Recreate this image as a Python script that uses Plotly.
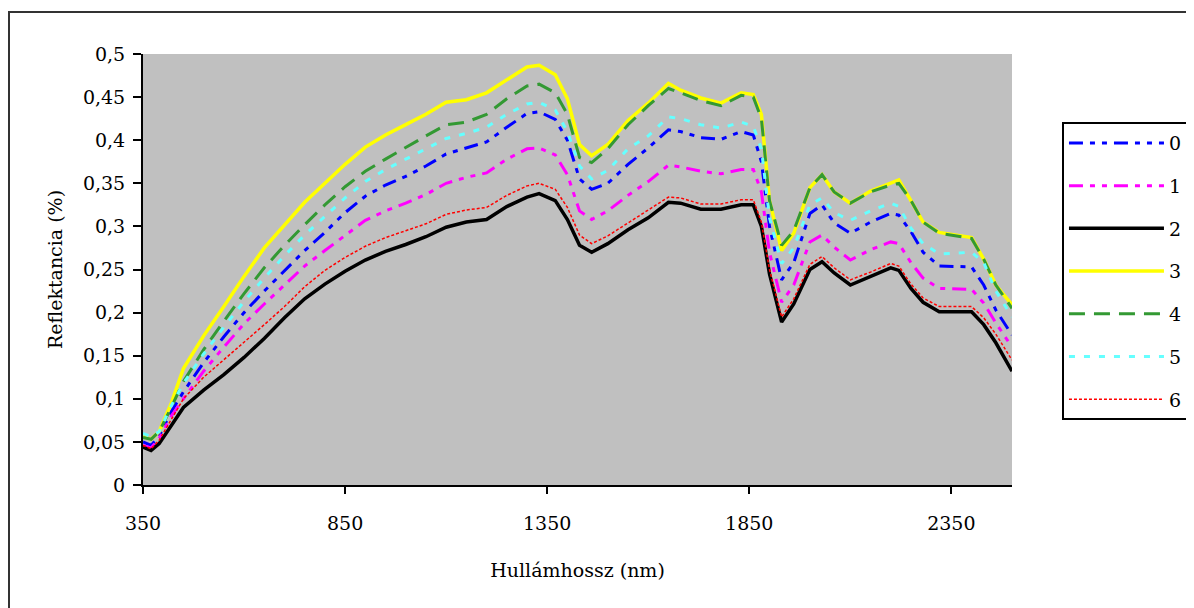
import plotly.graph_objects as go

wavelength = [350, 370, 390, 420, 450, 500, 550, 600, 650, 700, 750, 800, 850, 900, 950, 1000,
              1050, 1100, 1150, 1200, 1250, 1300, 1330, 1370, 1400, 1430, 1460, 1500, 1550,
              1600, 1650, 1680, 1730, 1780, 1830, 1860, 1880, 1900, 1930, 1960, 2000, 2030,
              2060, 2100, 2150, 2200, 2220, 2250, 2280, 2320, 2400, 2430, 2460, 2500]

s0 = [0.050, 0.046, 0.057, 0.085, 0.108, 0.142, 0.172, 0.200, 0.225, 0.248, 0.272, 0.293, 0.316, 0.335, 0.348, 0.358,
      0.370, 0.384, 0.391, 0.398, 0.415, 0.431, 0.433, 0.424, 0.400, 0.355, 0.343, 0.350, 0.372,
      0.391, 0.412, 0.410, 0.403, 0.401, 0.410, 0.406, 0.375, 0.300, 0.238, 0.258, 0.315, 0.325,
      0.304, 0.292, 0.305, 0.315, 0.313, 0.294, 0.270, 0.254, 0.253, 0.232, 0.203, 0.174]
s1 = [0.046, 0.043, 0.054, 0.080, 0.100, 0.132, 0.160, 0.187, 0.210, 0.232, 0.254, 0.272, 0.290, 0.307, 0.318, 0.327,
      0.337, 0.350, 0.357, 0.362, 0.378, 0.390, 0.391, 0.383, 0.360, 0.318, 0.308, 0.318, 0.336,
      0.352, 0.371, 0.369, 0.364, 0.361, 0.366, 0.366, 0.340, 0.270, 0.212, 0.232, 0.282, 0.290,
      0.276, 0.261, 0.273, 0.282, 0.280, 0.258, 0.240, 0.228, 0.227, 0.211, 0.188, 0.160]
s2 = [0.044, 0.040, 0.048, 0.069, 0.090, 0.110, 0.128, 0.148, 0.170, 0.194, 0.216, 0.233, 0.248, 0.261, 0.271, 0.279,
      0.288, 0.299, 0.305, 0.308, 0.323, 0.334, 0.338, 0.330, 0.308, 0.278, 0.270, 0.280, 0.296,
      0.310, 0.328, 0.327, 0.320, 0.320, 0.325, 0.325, 0.300, 0.245, 0.189, 0.210, 0.250, 0.259,
      0.246, 0.232, 0.242, 0.252, 0.249, 0.228, 0.212, 0.201, 0.201, 0.186, 0.165, 0.132]
s3 = [0.056, 0.053, 0.062, 0.095, 0.135, 0.173, 0.207, 0.242, 0.275, 0.302, 0.328, 0.350, 0.372, 0.392, 0.406, 0.418,
      0.430, 0.444, 0.447, 0.455, 0.470, 0.485, 0.487, 0.476, 0.448, 0.395, 0.382, 0.395, 0.423,
      0.443, 0.466, 0.458, 0.449, 0.443, 0.455, 0.453, 0.430, 0.330, 0.272, 0.292, 0.345, 0.360,
      0.340, 0.327, 0.341, 0.350, 0.354, 0.330, 0.305, 0.293, 0.287, 0.262, 0.232, 0.209]
s4 = [0.055, 0.053, 0.062, 0.090, 0.120, 0.157, 0.190, 0.222, 0.252, 0.278, 0.302, 0.325, 0.346, 0.364, 0.378, 0.392,
      0.405, 0.418, 0.421, 0.430, 0.448, 0.463, 0.465, 0.455, 0.430, 0.380, 0.374, 0.390, 0.418,
      0.440, 0.460, 0.455, 0.446, 0.440, 0.452, 0.450, 0.425, 0.330, 0.278, 0.295, 0.345, 0.360,
      0.340, 0.327, 0.340, 0.348, 0.350, 0.330, 0.305, 0.292, 0.286, 0.262, 0.232, 0.205]
s5 = [0.060, 0.056, 0.062, 0.092, 0.118, 0.152, 0.183, 0.213, 0.240, 0.266, 0.290, 0.312, 0.333, 0.352, 0.366, 0.378,
      0.390, 0.402, 0.408, 0.415, 0.430, 0.442, 0.444, 0.435, 0.410, 0.370, 0.355, 0.365, 0.390,
      0.405, 0.427, 0.425, 0.418, 0.414, 0.421, 0.416, 0.390, 0.310, 0.257, 0.275, 0.325, 0.333,
      0.316, 0.307, 0.318, 0.327, 0.323, 0.298, 0.280, 0.268, 0.270, 0.258, 0.225, 0.195]
s6 = [0.046, 0.042, 0.052, 0.076, 0.100, 0.125, 0.145, 0.165, 0.186, 0.207, 0.230, 0.249, 0.264, 0.277, 0.287, 0.295,
      0.303, 0.314, 0.319, 0.322, 0.336, 0.347, 0.350, 0.343, 0.322, 0.290, 0.280, 0.289, 0.304,
      0.318, 0.334, 0.333, 0.326, 0.326, 0.331, 0.331, 0.305, 0.250, 0.195, 0.216, 0.256, 0.265,
      0.252, 0.238, 0.247, 0.257, 0.254, 0.233, 0.217, 0.207, 0.207, 0.194, 0.175, 0.145]

series_names = ["0", "1", "2", "3", "4", "5", "6"]
series_values = [s0, s1, s2, s3, s4, s5, s6]

x_tick_vals = [350, 850, 1350, 1850, 2350]
x_tick_text = ["350", "850", "1350", "1850", "2350"]
y_tick_vals = [0, 0.05, 0.1, 0.15, 0.2, 0.25, 0.3, 0.35, 0.4, 0.45, 0.5]
y_tick_text = ["0", "0,05", "0,1", "0,15", "0,2", "0,25", "0,3", "0,35", "0,4", "0,45", "0,5"]

styles = [
    dict(color="#0000FF", width=3, dash="14px,7px,5px,7px,5px,7px"),
    dict(color="#FF00FF", width=3, dash="14px,7px,5px,7px,5px,7px"),
    dict(color="#000000", width=3.5, dash="solid"),
    dict(color="#FFFF00", width=3.5, dash="solid"),
    dict(color="#339933", width=3, dash="16px,9px"),
    dict(color="#66FFFF", width=3, dash="6px,9px"),
    dict(color="#FF0000", width=1.5, dash="3px,2px"),
]

FONT = "DejaVu Serif"

fig = go.Figure()
for name, vals, st in zip(series_names, series_values, styles):
    fig.add_trace(go.Scatter(
        x=wavelength, y=vals, name=name, mode="lines",
        line=st, legendgroup=name,
    ))

# page body has an 8px default margin, so the figure starts at (8, 8)
fig.update_layout(
    width=1194, height=608,
    margin=dict(l=135, r=190, t=46, b=131),
    paper_bgcolor="white",
    plot_bgcolor="#C0C0C0",
    font=dict(family=FONT, size=19, color="black"),
    showlegend=True,
    legend=dict(
        x=1.0575, y=0.842, xanchor="left", yanchor="top",
        bgcolor="white", bordercolor="black", borderwidth=2,
        font=dict(family=FONT, size=19),
        tracegroupgap=15, itemwidth=95,
    ),
    xaxis=dict(
        range=[350, 2500], tickvals=x_tick_vals, ticktext=x_tick_text,
        showgrid=False, zeroline=False, showline=True, linecolor="black", linewidth=2,
        ticks="outside", ticklen=7, tickwidth=1.5, tickcolor="black",
        ticklabelstandoff=13,
        title=dict(text="Hullámhossz (nm)", standoff=31, font=dict(family=FONT, size=19)),
    ),
    yaxis=dict(
        range=[0, 0.5], tickvals=y_tick_vals, ticktext=y_tick_text,
        showgrid=False, zeroline=False, showline=True, linecolor="black", linewidth=2,
        ticks="outside", ticklen=8, tickwidth=1.5, tickcolor="black",
        ticklabelstandoff=4,
        title=dict(text="Reflektancia (%)", standoff=15, font=dict(family=FONT, size=19)),
    ),
    shapes=[dict(
        type="rect", xref="paper", yref="paper",
        x0=(9 - 143) / 869, x1=(1215 - 143) / 869,
        y0=(485 - 640) / 431, y1=(485 - 12) / 431,
        line=dict(color="#333333", width=2), fillcolor="rgba(0,0,0,0)", layer="below",
    )],
)

fig.write_html("out.html")
